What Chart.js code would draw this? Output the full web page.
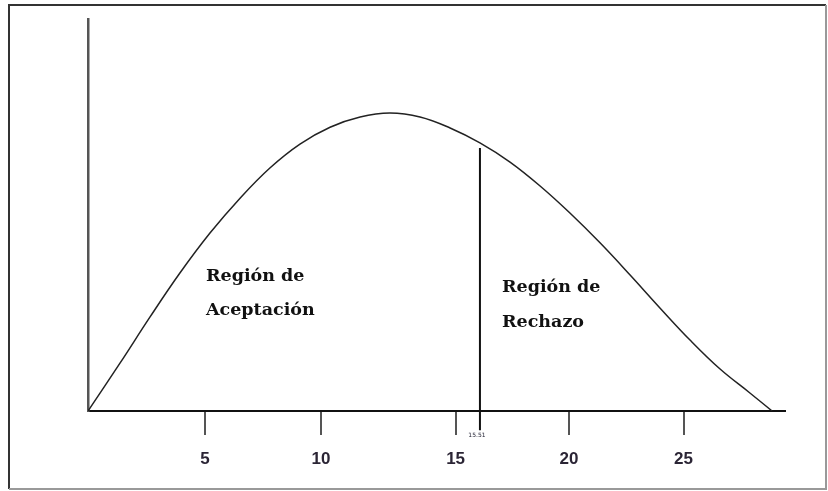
<!DOCTYPE html>
<html>
<head>
<meta charset="utf-8">
<script src="https://cdn.jsdelivr.net/npm/chart.js@4/dist/chart.umd.min.js"></script>
<style>
    html, body { margin: 0; padding: 0; background: #fff; }
    #wrap { width: 828px; height: 491px; }
</style>
</head>
<body>
<div id="wrap"><canvas id="chart" width="828" height="491"></canvas></div>
<script>
// curve (x in axis units, y in arbitrary height units)
const curveX = [0, 1.34, 2.6, 3.85, 5.11, 6.37, 7.62, 8.88, 10.14, 11.4, 12.65, 13.91, 15.17, 16.42, 17.68, 18.94, 20.19, 21.45, 22.71, 23.96, 25.22, 26.48, 27.73, 28.66];
const curveY = [0, 12.2, 24.0, 35.2, 45.4, 54.3, 62.0, 68.1, 72.4, 75.0, 76.0, 75.0, 72.2, 68.4, 63.5, 57.4, 50.5, 42.9, 34.7, 26.3, 18.1, 10.7, 4.6, 0];

// the axis ticks are not evenly spaced in the drawing
const tickValues = [4.9, 9.76, 15.4, 20.15, 24.95];
const tickLabels = ["5", "10", "15", "20", "25"];

// critical value line (drawn position vs printed label)
const criticalX = 16.42;
const criticalTop = 67.1;
const criticalBottom = -4.9;
const criticalLabel = "15.51";

const regionLabels = [
    ["Región de", "Aceptación"],
    ["Región de", "Rechazo"]
];

const framePlugin = {
    id: "frame",
    beforeDraw(chart) {
        const ctx = chart.ctx;
        ctx.save();
        ctx.fillStyle = "#fff";
        ctx.fillRect(0, 0, chart.width, chart.height);
        ctx.lineWidth = 2;
        ctx.strokeStyle = "#333";
        ctx.beginPath();
        ctx.moveTo(9, 489);
        ctx.lineTo(9, 5);
        ctx.lineTo(826, 5);
        ctx.stroke();
        ctx.strokeStyle = "#999";
        ctx.beginPath();
        ctx.moveTo(826, 5);
        ctx.lineTo(826, 489);
        ctx.lineTo(9, 489);
        ctx.stroke();
        ctx.restore();
    }
};

const textPlugin = {
    id: "texts",
    afterDraw(chart) {
        const ctx = chart.ctx;
        const xs = chart.scales.x;
        ctx.save();
        ctx.fillStyle = "#111";
        ctx.font = "bold 17.5px 'DejaVu Serif'";
        ctx.textBaseline = "alphabetic";
        ctx.textAlign = "left";
        ctx.fillText(regionLabels[0][0], 206, 281);
        ctx.fillText(regionLabels[0][1], 206, 315);
        ctx.fillText(regionLabels[1][0], 502, 292);
        ctx.fillText(regionLabels[1][1], 502, 327);

        ctx.font = "6px 'DejaVu Sans'";
        ctx.fillStyle = "#223";
        ctx.textAlign = "center";
        ctx.textBaseline = "middle";
        ctx.fillText(criticalLabel, xs.getPixelForValue(criticalX) - 3, 435);
        ctx.restore();
    }
};

new Chart(document.getElementById("chart"), {
    type: "line",
    data: {
        datasets: [
            {
                data: curveX.map((x, i) => ({ x, y: curveY[i] })),
                borderColor: "#222",
                borderWidth: 1.5,
                pointRadius: 0,
                tension: 0.4
            },
            {
                data: [{ x: criticalX, y: criticalTop }, { x: criticalX, y: criticalBottom }],
                borderColor: "#111",
                borderWidth: 2,
                pointRadius: 0,
                clip: false
            }
        ]
    },
    options: {
        responsive: false,
        animation: false,
        layout: { padding: { left: 88, right: 43, top: 19, bottom: 0 } },
        plugins: {
            legend: { display: false },
            tooltip: { enabled: false }
        },
        scales: {
            x: {
                type: "linear",
                min: 0,
                max: 29.2,
                afterBuildTicks(scale) {
                    scale.ticks = tickValues.map((value) => ({ value }));
                },
                afterFit(scale) {
                    scale.height = 80;
                },
                ticks: {
                    padding: 14,
                    color: "#2b2535",
                    font: { family: "'Liberation Sans'", size: 17, weight: "bold" },
                    maxRotation: 0,
                    callback: (value, index) => tickLabels[index]
                },
                grid: {
                    drawOnChartArea: false,
                    drawTicks: true,
                    tickLength: 24,
                    color: "#555",
                    lineWidth: 2
                },
                border: { display: true, color: "#111", width: 2 }
            },
            y: {
                min: 0,
                max: 100,
                afterFit(scale) {
                    scale.width = 0;
                },
                ticks: { display: false },
                grid: { display: false, drawTicks: false },
                border: { display: true, color: "#555", width: 2.5 }
            }
        }
    },
    plugins: [framePlugin, textPlugin]
});
</script>
</body>
</html>
